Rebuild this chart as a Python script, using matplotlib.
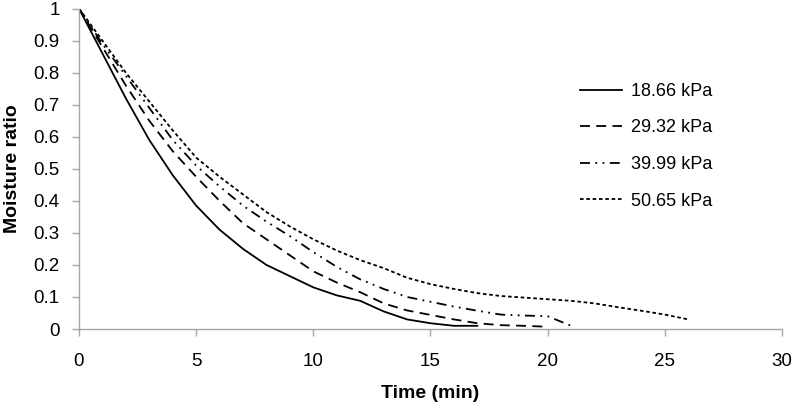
import matplotlib
matplotlib.use("Agg")
import matplotlib.pyplot as plt
from matplotlib.ticker import FuncFormatter

plt.rcParams['font.family'] = ['Liberation Sans', 'DejaVu Sans']

labels = ["18.66 kPa", "29.32 kPa", "39.99 kPa", "50.65 kPa"]

t_1866 = list(range(0, 18))
mr_1866 = [1.0, 0.86, 0.72, 0.59, 0.48, 0.385, 0.31, 0.25, 0.20, 0.165, 0.13,
           0.105, 0.088, 0.055, 0.03, 0.018, 0.01, 0.01]

t_2932 = list(range(0, 21))
mr_2932 = [1.0, 0.88, 0.76, 0.65, 0.555, 0.475, 0.40, 0.33, 0.28, 0.23, 0.18,
           0.145, 0.115, 0.08, 0.058, 0.044, 0.03, 0.018, 0.012, 0.01, 0.007]

t_3999 = list(range(0, 22))
mr_3999 = [1.0, 0.89, 0.79, 0.69, 0.59, 0.51, 0.445, 0.385, 0.335, 0.29, 0.24,
           0.194, 0.155, 0.125, 0.10, 0.085, 0.07, 0.057, 0.045, 0.042, 0.04, 0.01]

t_5065 = list(range(0, 27))
mr_5065 = [1.0, 0.90, 0.80, 0.71, 0.62, 0.535, 0.475, 0.42, 0.365, 0.32, 0.28,
           0.245, 0.215, 0.19, 0.16, 0.14, 0.125, 0.112, 0.103, 0.098, 0.093,
           0.088, 0.08, 0.068, 0.057, 0.045, 0.03]

x_ticks = [0, 5, 10, 15, 20, 25, 30]
y_ticks = [0, 0.1, 0.2, 0.3, 0.4, 0.5, 0.6, 0.7, 0.8, 0.9, 1]

fig = plt.figure(figsize=(7.93, 4.08), dpi=100)
ax = fig.add_axes([0.0996, 0.1936, 0.8865, 0.7854])

lw = 1.3
ax.plot(t_1866, mr_1866, color='black', lw=lw, linestyle='-', label=labels[0])
ax.plot(t_2932, mr_2932, color='black', lw=lw, linestyle=(0, (5.5, 3.5)), label=labels[1])
ax.plot(t_3999, mr_3999, color='black', lw=lw, linestyle=(0, (5.5, 3, 1, 3, 1, 3)), label=labels[2])
ax.plot(t_5065, mr_5065, color='black', lw=lw, linestyle=(0, (2, 1.5)), label=labels[3])

ax.set_xlim(0, 30)
ax.set_ylim(0, 1)
ax.set_xticks(x_ticks)
ax.set_yticks(y_ticks)
ax.yaxis.set_major_formatter(FuncFormatter(lambda v, p: ('%g' % v)))

for s in ['top', 'right']:
    ax.spines[s].set_visible(False)
for s in ['left', 'bottom']:
    ax.spines[s].set_color('#A6A6A6')
    ax.spines[s].set_linewidth(1.0)

ax.tick_params(axis='both', direction='out', length=5, width=1.0, color='#A6A6A6',
               labelsize=13.5, labelcolor='black')
ax.tick_params(axis='y', pad=9)
ax.tick_params(axis='x', pad=12)

ax.set_xlabel('Time (min)', fontsize=14, fontweight='bold', labelpad=11)
ax.set_ylabel('Moisture ratio', fontsize=14, fontweight='bold', labelpad=9)

leg = ax.legend(loc='upper left', bbox_to_anchor=(580 / 793, 1 - 83 / 408),
                bbox_transform=fig.transFigure, frameon=False, fontsize=13,
                handlelength=2.35, handletextpad=0.5, labelspacing=1.08,
                borderpad=0, borderaxespad=0)

fig.savefig('out.png', dpi=100)
